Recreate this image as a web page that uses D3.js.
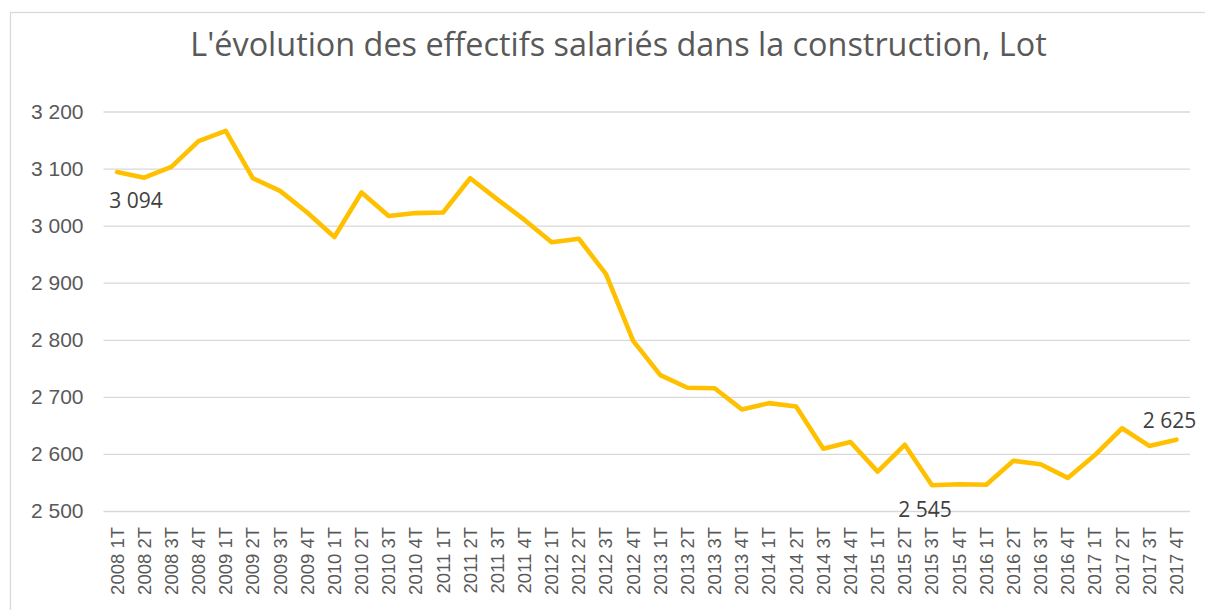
<!doctype html>
<html>
<head>
<meta charset="utf-8">
<title>Effectifs salariés construction, Lot</title>
<script src="https://cdn.jsdelivr.net/npm/d3@7"></script>
<style>
  body { margin:0; background:#fff; }
  svg { display:block; font-family:"Open Sans", sans-serif; }
  .grid line { stroke:#d9d9d9; stroke-width:1.3px; }
  .grid text { fill:#595959; font-size:21px; }
  .xaxis text { fill:#595959; font-size:18.5px; }
  .lbl { fill:#404040; font-size:21px; }
</style>
</head>
<body>
<svg id="chart" width="1205" height="610"></svg>
<script>

// données
var titre = "L'évolution des effectifs salariés dans la construction, Lot"

var annees = ["2008","2009","2010","2011","2012","2013","2014","2015","2016","2017"]
var trimestres = ["1T","2T","3T","4T"]
var categories = []
annees.forEach(function(a){ trimestres.forEach(function(t){ categories.push(a + " " + t) }) })

var effectifs = [3094,3084,3103,3148,3166,3083,3061,3023,2980,3058,
                 3017,3022,3023,3083,3046,3010,2971,2977,2915,2798,
                 2738,2716,2715,2678,2689,2683,2609,2621,2569,2616,
                 2545,2547,2546,2588,2582,2558,2598,2645,2614,2625]

var yTicks = [2500,2600,2700,2800,2900,3000,3100,3200]
var etiquettes = [0, 30, 39]   // points avec valeur affichée

// mise en page
var svg = d3.select("#chart")
var gauche = 103.5, droite = 1190, haut = 111.5, bas = 511

var fr = d3.formatLocale({decimal:",", thousands:" ", grouping:[3], currency:["","€"]})
var fmt = fr.format(",d")

var x = d3.scaleBand().domain(categories).range([gauche, droite]).padding(0)
var y = d3.scaleLinear().domain([2500, 3200]).range([bas, haut])

// cadre
svg.append("rect")
   .attr("x", 10.5).attr("y", 12.5)
   .attr("width", 1230).attr("height", 640)
   .attr("fill", "none").attr("stroke", "#d9d9d9").attr("stroke-width", 1.3)

// titre
var t = svg.append("text")
   .attr("x", 618.5).attr("y", 56)
   .attr("text-anchor", "middle")
   .attr("fill", "#595959")
   .style("font-size", "28px")
   .text(titre)
var len = t.node().getComputedTextLength()
t.style("font-size", (28 * 857 / len) + "px")

// grille + axe y
var gy = svg.append("g")
   .attr("class", "grid")
   .attr("transform", "translate(" + gauche + ",0)")
   .call(d3.axisLeft(y).tickValues(yTicks).tickSize(-(droite - gauche)).tickPadding(20).tickFormat(fmt))
gy.select(".domain").remove()
gy.selectAll("text").attr("font-family", null).attr("font-size", null)

// axe x
var gx = svg.append("g")
   .attr("class", "xaxis")
   .attr("transform", "translate(0," + bas + ")")
   .call(d3.axisBottom(x).tickSize(0))
gx.select(".domain").remove()
gx.selectAll("text")
  .attr("font-family", null).attr("font-size", null)
  .attr("text-anchor", "end")
  .attr("transform", "rotate(-90)")
  .attr("x", -16).attr("y", 0).attr("dy", "0.35em")

// courbe
var ligne = d3.line()
   .x(function(d,i){ return x(categories[i]) + x.bandwidth()/2 })
   .y(function(d){ return y(d) })

svg.append("path")
   .datum(effectifs)
   .attr("d", ligne)
   .attr("fill", "none")
   .attr("stroke", "#ffc000")
   .attr("stroke-width", 4.6)
   .attr("stroke-linejoin", "round")
   .attr("stroke-linecap", "round")

// valeurs
svg.selectAll(".lbl")
   .data(etiquettes)
   .enter()
   .append("text")
   .attr("class", "lbl")
   .attr("text-anchor", "middle")
   .attr("x", function(i){
      var cx = x(categories[i]) + x.bandwidth()/2
      if (i == 0) return cx + 19
      return cx - 7
   })
   .attr("y", function(i){
      var cy = y(effectifs[i])
      if (i == 39) return cy - 12
      if (i == 0) return cy + 36
      return cy + 32
   })
   .text(function(i){ return fmt(effectifs[i]) })

</script>
</body>
</html>
